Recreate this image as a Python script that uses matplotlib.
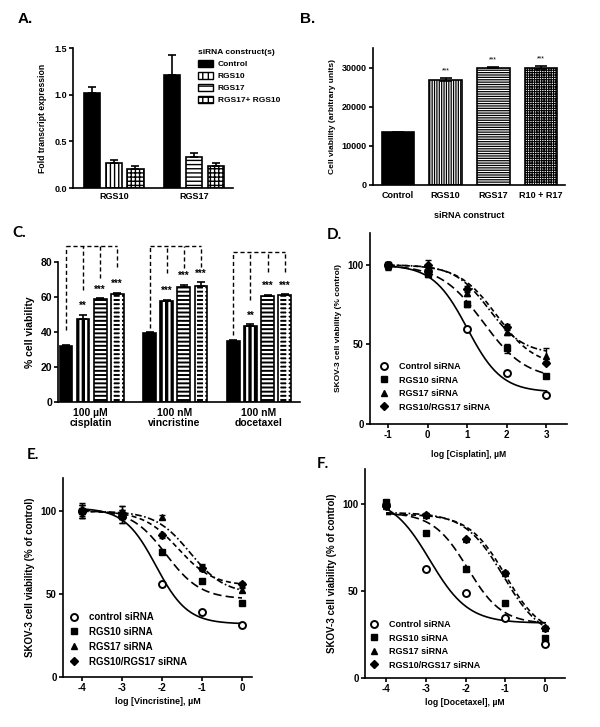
import numpy as np
import matplotlib.pyplot as plt
from matplotlib.lines import Line2D
from matplotlib.patches import Patch

# ---------------- data ----------------
# A: fold transcript expression
a_groups = ['RGS10', 'RGS17']
a_ctrl = [1.02, 1.21]
a_ctrl_err = [0.06, 0.21]
a_sirna = [0.265, 0.335]          # RGS10 siRNA on RGS10, RGS17 siRNA on RGS17
a_sirna_err = [0.03, 0.04]
a_combo = [0.205, 0.235]
a_combo_err = [0.03, 0.03]

# B: cell viability
b_labels = ['Control', 'RGS10', 'RGS17', 'R10 + R17']
b_values = [13500, 26900, 30000, 30000]
b_err = [100, 350, 150, 300]
b_stars = ['', '***', '***', '***']

# C: % cell viability
c_groups = ['100 µM\ncisplatin', '100 nM\nvincristine', '100 nM\ndocetaxel']
c_values = [[32, 47.5, 59, 61.5], [39.5, 58, 66, 66.5], [35, 43.5, 60.5, 61]]
c_err = [[0.5, 2.5, 0.5, 1.0], [0.5, 0.5, 1.0, 2.0], [0.5, 0.8, 0.8, 0.8]]
c_stars = [['', '**', '***', '***'], ['', '***', '***', '***'], ['', '**', '***', '***']]
c_bracket_top = [89, 89, 85.5]
c_bracket_low = [[41, 64, 70.7, 77.3], [42.3, 73.7, 76.6, 77.3], [38.3, 58.3, 74.5, 74.5]]

# D: cisplatin dose response
d_dose = [-1, 0, 1, 2, 3]
d_ctrl = [100, 96, 60, 32, 18.5]
d_r10 = [100, 94, 75.5, 47.5, 30]
d_r17 = [99, 97, 82.5, 58, 43]
d_combo = [100, 100, 85, 61, 38.5]
d_ctrl_err = [1, 1, 1, 1, 1]
d_r10_err = [2, 1.5, 2, 3, 1]
d_r17_err = [2, 2, 2, 2, 4.5]
d_combo_err = [1.5, 3, 2, 2, 1]

# E: vincristine dose response
e_dose = [-4, -3, -2, -1, 0]
e_ctrl = [100, 97, 56, 39, 31.5]
e_r10 = [100, 97, 75.5, 58, 44.5]
e_r17 = [101, 99, 96.5, 66.5, 52.5]
e_combo = [100, 99, 85.5, 66, 56]
e_ctrl_err = [4, 4, 1, 1, 1]
e_r10_err = [4, 4, 1, 1, 1]
e_r17_err = [4, 4, 1, 1, 1]
e_combo_err = [4, 4, 1.5, 2, 1.5]

# F: docetaxel dose response
f_dose = [-4, -3, -2, -1, 0]
f_ctrl = [99.5, 62.7, 48.8, 34.7, 19.4]
f_r10 = [101, 83, 62.3, 43, 22.7]
f_r17 = [99, 93.5, 79.6, 60.2, 28.8]
f_combo = [99, 93.5, 79.6, 60.2, 28.8]
f_err = [1, 1, 1, 1, 1]

# fitted sigmoid parameters (top, bottom, logEC50, hill)
d_fits = [(100, 20, 1.0, 1.0), (100, 28, 1.4, 0.8), (100, 44, 1.55, 1.0), (100, 36, 1.75, 0.9)]
e_fits = [(102, 32, -2.15, 1.1), (101, 47, -1.9, 1.0), (100, 50, -1.3, 1.0), (100, 55, -1.6, 1.0)]
f_fits = [(104, 31.5, -2.9, 0.9), (95, 31, -1.95, 1.0), (95, 22, -1.05, 0.9), (94, 24, -1.0, 0.95)]

# ---------------- setup ----------------
W, H = 600, 727
plt.rcParams['font.family'] = ['Liberation Sans', 'DejaVu Sans']
plt.rcParams['font.weight'] = 'bold'
plt.rcParams['axes.labelweight'] = 'bold'
plt.rcParams['axes.linewidth'] = 1.2
plt.rcParams['axes.unicode_minus'] = False

fig = plt.figure(figsize=(6, 7.27), dpi=100)


def add_ax(l, t, r, b):
    return fig.add_axes([l / W, 1 - b / H, (r - l) / W, (b - t) / H])


def style(ax, size):
    ax.spines[['top', 'right']].set_visible(False)
    ax.tick_params(direction='out', length=3, width=1.2, labelsize=size, pad=1.5)


def panel_label(x, y, s, fam):
    fig.text(x / W, 1 - y / H, s, fontsize=11, fontweight='bold', ha='left', va='center', family=fam)


def hbar(ax, x, h, w, face, hatch=None, hcolor='black', hlw=1.0, lw=1.2):
    ax.bar(x, h, w, color=face, linewidth=0)
    if hatch:
        with plt.rc_context({'hatch.linewidth': hlw}):
            bars = ax.bar(x, h, w, color='none', edgecolor=hcolor, hatch=hatch, linewidth=0)
            for p in bars:
                if hasattr(p, 'set_hatch_linewidth'):
                    p.set_hatch_linewidth(hlw)
    ax.bar(x, h, w, color='none', edgecolor='black', linewidth=lw)


def sigmoid(x, top, bottom, c, h):
    return bottom + (top - bottom) / (1 + 10 ** (h * (np.asarray(x) - c)))


# ---------------- A ----------------
panel_label(18, 19, 'A.', ['Liberation Sans'])
axA = add_ax(73, 48, 233, 188)
style(axA, 6.5)
xa = np.array([0, 3.7])
wa = 0.75
hbar(axA, xa, a_ctrl, wa, 'black')
hbar(axA, xa[0] + 1, a_sirna[0], wa, 'white', '||||', hlw=1.0)
hbar(axA, xa[1] + 1, a_sirna[1], wa, 'white', '----', hlw=1.0)
hbar(axA, xa + 2, a_combo, wa, 'white', '++++', hlw=1.0)
axA.errorbar(xa, a_ctrl, yerr=[[0, 0], a_ctrl_err], fmt='none', ecolor='black', elinewidth=1.2, capsize=3, capthick=1.2)
axA.errorbar(xa + 1, a_sirna, yerr=[[0, 0], a_sirna_err], fmt='none', ecolor='black', elinewidth=1.2, capsize=3, capthick=1.2)
axA.errorbar(xa + 2, a_combo, yerr=[[0, 0], a_combo_err], fmt='none', ecolor='black', elinewidth=1.2, capsize=3, capthick=1.2)
axA.set_xlim(-0.88, 6.5)
axA.set_ylim(0, 1.5)
axA.set_yticks([0, 0.5, 1.0, 1.5])
axA.set_yticklabels(['0.0', '0.5', '1.0', '1.5'])
axA.set_xticks(xa + 1)
axA.set_xticklabels(a_groups)
axA.tick_params(axis='x', length=0, pad=3)
axA.set_ylabel('Fold transcript expression', fontsize=6.2, labelpad=5)
handlesA = [Patch(facecolor='black', edgecolor='black'),
            Patch(facecolor='white', edgecolor='black', hatch='|||'),
            Patch(facecolor='white', edgecolor='black', hatch='---'),
            Patch(facecolor='white', edgecolor='black', hatch='+++')]
legA = axA.legend(handlesA, ['Control', 'RGS10', 'RGS17', 'RGS17+ RGS10'], title='siRNA construct(s)',
                  loc='upper left', bbox_to_anchor=(198 / W, 1 - 49 / H), bbox_transform=fig.transFigure,
                  frameon=False, fontsize=6, title_fontsize=6, alignment='left', borderpad=0,
                  borderaxespad=0, handlelength=1.8, handleheight=0.9, handletextpad=0.6, labelspacing=0.45)
legA.get_title().set_fontweight('bold')

# ---------------- B ----------------
panel_label(300, 19, 'B.', ['Liberation Sans'])
axB = add_ax(373, 48, 565, 185)
style(axB, 6.5)
xb = np.arange(len(b_values))
wb = 0.68
hbar(axB, xb[0], b_values[0], wb, 'black')
hbar(axB, xb[1], b_values[1], wb, 'white', '|' * 7, hlw=0.9)
hbar(axB, xb[2], b_values[2], wb, 'white', '-' * 7, hlw=0.9)
hbar(axB, xb[3], b_values[3], wb, 'white', '+' * 7, hlw=0.8)
axB.errorbar(xb, b_values, yerr=b_err, fmt='none', ecolor='black', elinewidth=1.2, capsize=4, capthick=1.2)
for xi, v, e, s in zip(xb, b_values, b_err, b_stars):
    axB.text(xi, v + e + 900, s, ha='center', va='bottom', fontsize=5, fontweight='normal')
axB.set_xlim(-0.52, 3.5)
axB.set_ylim(0, 35000)
axB.set_yticks([0, 10000, 20000, 30000])
axB.set_xticks(xb)
axB.set_xticklabels(b_labels)
axB.tick_params(axis='x', length=0, pad=4)
axB.set_ylabel('Cell viability (arbitrary units)', fontsize=6, labelpad=4)
axB.set_xlabel('siRNA construct', fontsize=6.5, labelpad=8)

# ---------------- C ----------------
panel_label(12, 233, 'C.', ['Lato', 'Liberation Sans'])
axC = add_ax(58.3, 262, 300, 402)
style(axC, 7.5)
wc = 0.75
c_styles = [('black', None), ('black', '|||'), ('black', '----'), ('black', '----||')]
for g in range(3):
    base = g * 4.9
    for i in range(4):
        face, hatch = c_styles[i]
        hbar(axC, base + i, c_values[g][i], wc, face, hatch, hcolor='white', hlw=1.6)
        axC.errorbar(base + i, c_values[g][i], yerr=[[0], [c_err[g][i]]], fmt='none', ecolor='black',
                     elinewidth=1.2, capsize=3, capthick=1.2)
        if c_stars[g][i]:
            axC.text(base + i, c_values[g][i] + c_err[g][i] + 2, c_stars[g][i], ha='center', va='bottom',
                     fontsize=7)
        axC.plot([base + i, base + i], [c_bracket_low[g][i], c_bracket_top[g]], ls=(0, (3, 2)), color='black',
                 lw=1.0, clip_on=False)
    axC.plot([base, base + 3], [c_bracket_top[g]] * 2, ls=(0, (3, 2)), color='black', lw=1.0, clip_on=False)
axC.set_xlim(-0.45, 13.7)
axC.set_ylim(0, 80)
axC.set_yticks([0, 20, 40, 60, 80])
axC.set_xticks([g * 4.9 + 1.45 for g in range(3)])
axC.set_xticklabels(c_groups, fontsize=7.5, linespacing=1.1)
axC.tick_params(axis='x', length=0, pad=4)
axC.set_ylabel('% cell viability', fontsize=7.5, labelpad=4)

# ---------------- dose response panels ----------------
markers = [dict(marker='o', mfc='white', mec='black', mew=1.4, ms=5),
           dict(marker='s', mfc='black', mec='black', ms=4.5),
           dict(marker='^', mfc='black', mec='black', ms=5),
           dict(marker='D', mfc='black', mec='black', ms=4)]
line_styles = ['-', (0, (5, 2.5)), (0, (4, 1.5, 1, 1.5)), (0, (3, 2))]


def dose_panel(ax, dose, series, errs, fits, xr, legend_names, leg_xy, leg_fs, tick_fs):
    style(ax, tick_fs)
    xs = np.linspace(xr[0], xr[1], 200)
    for k in range(4):
        ax.plot(xs, sigmoid(xs, *fits[k]), color='black', lw=1.2, ls=line_styles[k])
    for k in range(4):
        ax.errorbar(dose, series[k], yerr=errs[k], fmt='none', ecolor='black', elinewidth=1.0,
                    capsize=2.5, capthick=1.0)
        ax.plot(dose, series[k], ls='none', **markers[k])
    handles = [Line2D([], [], ls='none', **m) for m in markers]
    ax.legend(handles, legend_names, loc='upper left', bbox_to_anchor=(leg_xy[0] / W, 1 - leg_xy[1] / H),
              bbox_transform=fig.transFigure, frameon=False, fontsize=leg_fs, borderpad=0,
              borderaxespad=0, handlelength=1.2, handletextpad=1.0, labelspacing=0.5)
    ax.set_ylim(0, 120)
    ax.set_yticks([0, 50, 100])


names = ['Control siRNA', 'RGS10 siRNA', 'RGS17 siRNA', 'RGS10/RGS17 siRNA']

panel_label(327, 235, 'D.', ['Lato', 'Liberation Sans'])
axD = add_ax(370, 233, 567, 424)
dose_panel(axD, d_dose, [d_ctrl, d_r10, d_r17, d_combo], [d_ctrl_err, d_r10_err, d_r17_err, d_combo_err],
           d_fits, (-1, 3), names, (379, 362), 6.5, 7)
axD.set_xlim(-1.46, 3.52)
axD.set_xticks([-1, 0, 1, 2, 3])
axD.set_xlabel('log [Cisplatin], µM', fontsize=6.2, labelpad=7)
axD.set_ylabel('SKOV-3 cell viability (% control)', fontsize=6, labelpad=4)

panel_label(27, 455, 'E.', ['Lato', 'Liberation Sans'])
axE = add_ax(63, 478, 252, 677)
dose_panel(axE, e_dose, [e_ctrl, e_r10, e_r17, e_combo], [e_ctrl_err, e_r10_err, e_r17_err, e_combo_err],
           e_fits, (-4, 0), ['control siRNA', 'RGS10 siRNA', 'RGS17 siRNA', 'RGS10/RGS17 siRNA'],
           (68, 612), 7, 7)
axE.set_xlim(-4.475, 0.25)
axE.set_xticks([-4, -3, -2, -1, 0])
axE.set_xlabel('log [Vincristine], µM', fontsize=6.5, labelpad=3)
axE.set_ylabel('SKOV-3 cell viability (% of control)', fontsize=7, labelpad=4)

panel_label(317, 464, 'F.', ['Lato', 'Liberation Sans'])
axF = add_ax(365, 469, 565, 678)
dose_panel(axF, f_dose, [f_ctrl, f_r10, f_r17, f_combo], [f_err] * 4, f_fits, (-4, 0), names,
           (369, 620), 6.5, 7)
axF.set_xlim(-4.53, 0.5)
axF.set_xticks([-4, -3, -2, -1, 0])
axF.set_xlabel('log [Docetaxel], µM', fontsize=6.2, labelpad=3)
axF.set_ylabel('SKOV-3 cell viability (% of control)', fontsize=7, labelpad=4)

fig.savefig('out.png', dpi=100)
